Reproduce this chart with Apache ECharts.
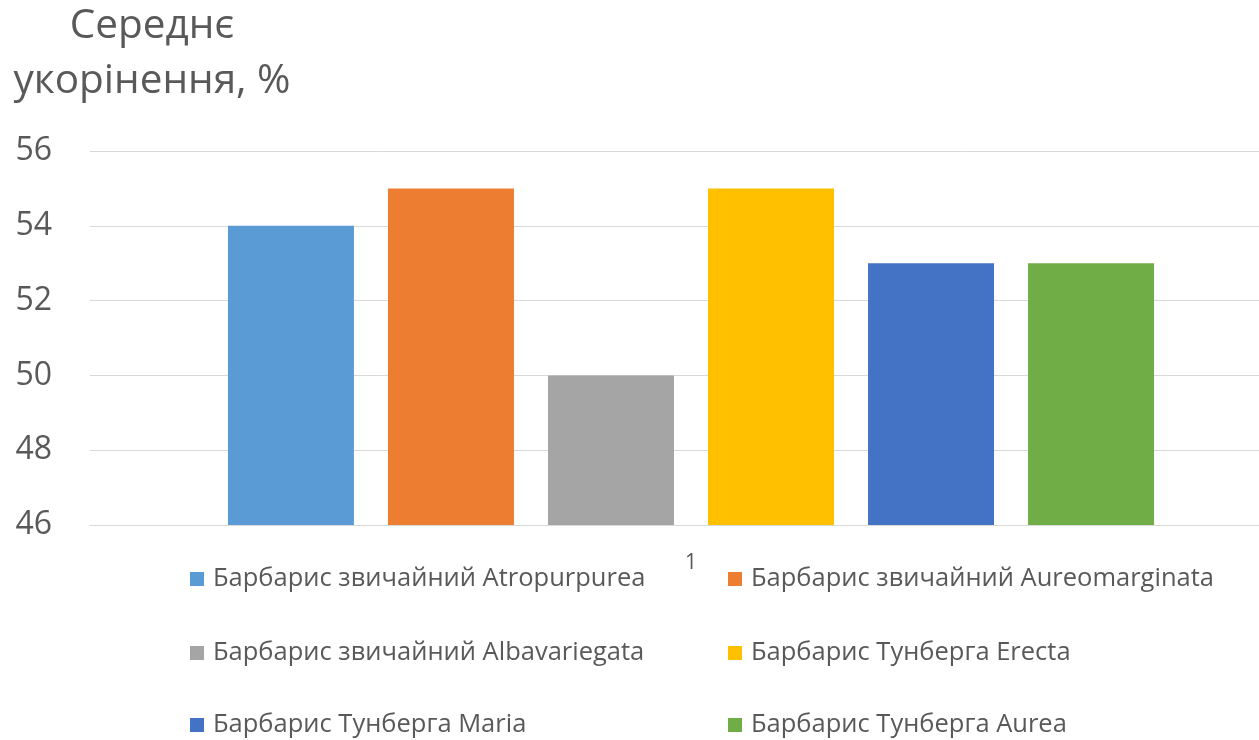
<!DOCTYPE html>
<html>
<head>
<meta charset="utf-8">
<script src="https://cdn.jsdelivr.net/npm/echarts@6/dist/echarts.min.js"></script>
<style>
html,body{margin:0;padding:0;background:#fff;}
#chart{width:1259px;height:740px;}
</style>
</head>
<body>
<div id="chart"></div>
<script>
const categories = ['1'];
const seriesNames = [
  'Барбарис звичайний Atropurpurea',
  'Барбарис звичайний Aureomarginata',
  'Барбарис звичайний Albavariegata',
  'Барбарис Тунберга Erecta',
  'Барбарис Тунберга Maria',
  'Барбарис Тунберга Aurea'
];
const seriesValues = [
  [54],
  [55],
  [50],
  [55],
  [53],
  [53]
];
const colors = ['#5B9BD5', '#ED7D31', '#A5A5A5', '#FFC000', '#4472C4', '#70AD47'];
const yTitle = 'Середнє\nукорінення, %';
const yMin = 46, yMax = 56, yInterval = 2;

const textColor = '#595959';
const font = '"Open Sans", "Noto Sans", sans-serif';

// legend layout: 2 columns x 3 rows
const legendCols = [190, 728];
const legendRows = [566, 640, 712];

const chart = echarts.init(document.getElementById('chart'));
const legendTextStyle = { color: textColor, fontSize: 25.5, fontFamily: font, lineHeight: 24, padding: [0, 0, 0, 4] };
const legends = seriesNames.map((name, i) => ({
  orient: 'horizontal',
  left: legendCols[i % 2],
  top: legendRows[Math.floor(i / 2)],
  padding: 0,
  itemWidth: 14, itemHeight: 14,
  icon: 'rect',
  textStyle: legendTextStyle,
  data: [name]
}));

chart.setOption({
  animation: false,
  color: colors,
  title: {
    text: yTitle,
    left: 152,
    top: -1,
    padding: 0,
    textAlign: 'center',
    textStyle: { color: textColor, fontSize: 40.5, fontWeight: 'normal', fontFamily: font, lineHeight: 55, align: 'center' }
  },
  legend: legends,
  grid: { left: 90, width: 1202, top: 151, bottom: 215, containLabel: false, outerBoundsMode: 'none' },
  xAxis: {
    type: 'category',
    data: categories,
    axisTick: { show: false },
    axisLine: { show: true, lineStyle: { color: '#d9d9d9', width: 1 } },
    axisLabel: { color: textColor, fontSize: 21, fontFamily: font, margin: 28 }
  },
  yAxis: {
    type: 'value',
    min: yMin, max: yMax, interval: yInterval,
    axisLine: { show: false },
    axisTick: { show: false },
    splitLine: { lineStyle: { color: '#d9d9d9', width: 1 } },
    axisLabel: { color: textColor, fontSize: 32, fontFamily: font, margin: 38 }
  },
  series: seriesNames.map((name, i) => ({
    name: name,
    type: 'bar',
    data: seriesValues[i],
    barWidth: 126,
    barGap: '27%',
    itemStyle: { color: colors[i] }
  }))
});
</script>
</body>
</html>
